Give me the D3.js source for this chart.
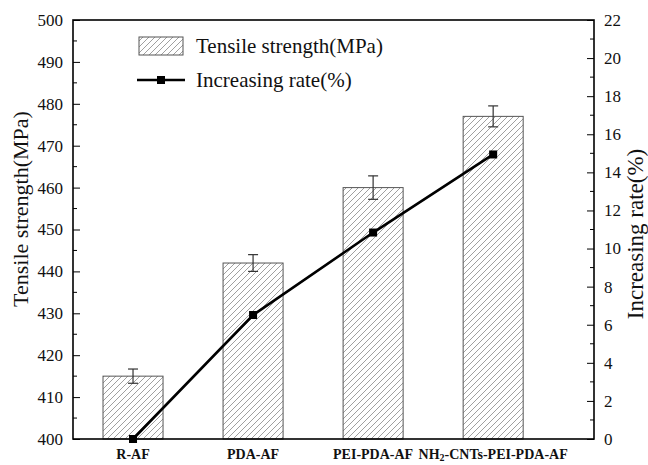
<!DOCTYPE html>
<html>
<head>
<meta charset="utf-8">
<script src="https://cdn.jsdelivr.net/npm/d3@7"></script>
<style>
  body { margin: 0; background: #fff; }
  svg text { font-family: "Liberation Serif", Tinos, "Times New Roman", "DejaVu Serif", serif; }
</style>
</head>
<body>
<svg id="chart" width="648" height="465"></svg>
<script>
// Samples and measurements
const categories = ["R-AF", "PDA-AF", "PEI-PDA-AF", "NH2-CNTs-PEI-PDA-AF"];
const strength = [415, 442, 460, 477];          // tensile strength, MPa
const strengthErr = [1.7, 2.0, 2.8, 2.5];       // error bar half-height, MPa
const rate = [0, 6.51, 10.84, 14.94];            // increasing rate, %
const leftTicks = [400, 410, 420, 430, 440, 450, 460, 470, 480, 490, 500];
const rightTicks = [0, 2, 4, 6, 8, 10, 12, 14, 16, 18, 20, 22];

const svg = d3.select("#chart");
const L = 73, R = 594, T = 20, B = 439;

const x = d3.scaleLinear().domain([0.5, 4.84]).range([L, R]);
const yL = d3.scaleLinear().domain([400, 500]).range([B, T]);
const yR = d3.scaleLinear().domain([0, 22]).range([B, T]);
const barW = x(1.25) - x(0.75);

// diagonal hatch fill
const defs = svg.append("defs");
const pat = defs.append("pattern")
  .attr("id", "hatch").attr("patternUnits", "userSpaceOnUse")
  .attr("width", 6).attr("height", 6);
pat.append("rect").attr("width", 6).attr("height", 6).attr("fill", "#fff");
pat.append("path")
  .attr("d", "M-1,1 l2,-2 M0,6 l6,-6 M5,7 l2,-2")
  .attr("stroke", "#959595").attr("stroke-width", 0.9);

// bars
svg.append("g").selectAll("rect").data(strength).join("rect")
  .attr("x", (d, i) => x(i + 1) - barW / 2)
  .attr("y", d => yL(d))
  .attr("width", barW)
  .attr("height", d => B - yL(d))
  .attr("fill", "url(#hatch)")
  .attr("stroke", "#555").attr("stroke-width", 1);

// error bars
const eb = svg.append("g").attr("stroke", "#333").attr("stroke-width", 1.2);
strength.forEach((v, i) => {
  const cx = x(i + 1), e = strengthErr[i], hw = 5;
  eb.append("line").attr("x1", cx).attr("x2", cx).attr("y1", yL(v - e)).attr("y2", yL(v + e));
  eb.append("line").attr("x1", cx - hw).attr("x2", cx + hw).attr("y1", yL(v + e)).attr("y2", yL(v + e));
  eb.append("line").attr("x1", cx - hw).attr("x2", cx + hw).attr("y1", yL(v - e)).attr("y2", yL(v - e));
});

// increasing-rate line
const line = d3.line().x((d, i) => x(i + 1)).y(d => yR(d));
svg.append("path").datum(rate).attr("d", line)
  .attr("fill", "none").attr("stroke", "#000").attr("stroke-width", 2.6);
svg.append("g").selectAll("rect").data(rate).join("rect")
  .attr("x", (d, i) => x(i + 1) - 4).attr("y", d => yR(d) - 4)
  .attr("width", 8).attr("height", 8).attr("fill", "#000");

// axes with inward ticks
const axL = d3.axisLeft(yL).tickValues(leftTicks).tickSize(-7).tickPadding(10);
const gL = svg.append("g").attr("transform", `translate(${L},0)`).call(axL);
const axR = d3.axisRight(yR).tickValues(rightTicks).tickSize(-7).tickPadding(10);
const gR = svg.append("g").attr("transform", `translate(${R},0)`).call(axR);
[gL, gR].forEach(g => {
  g.attr("font-family", null).attr("font-size", null);
  g.select(".domain").remove();
  g.selectAll("line").attr("stroke", "#000").attr("stroke-width", 1);
  g.selectAll("text").attr("font-size", 17).attr("fill", "#111");
});
// minor ticks
const minorL = d3.range(405, 500, 10);
svg.append("g").selectAll("line").data(minorL).join("line")
  .attr("x1", L).attr("x2", L + 4).attr("y1", d => yL(d)).attr("y2", d => yL(d))
  .attr("stroke", "#000");
const minorR = d3.range(1, 22, 2);
svg.append("g").selectAll("line").data(minorR).join("line")
  .attr("x1", R).attr("x2", R - 4).attr("y1", d => yR(d)).attr("y2", d => yR(d))
  .attr("stroke", "#000");

// frame
svg.append("rect").attr("x", L).attr("y", T).attr("width", R - L).attr("height", B - T)
  .attr("fill", "none").attr("stroke", "#000").attr("stroke-width", 1.6);

// category labels
const xl = svg.append("g").attr("font-weight", "bold").attr("font-size", 14)
  .attr("text-anchor", "middle").attr("fill", "#111");
categories.forEach((c, i) => {
  const t = xl.append("text").attr("x", x(i + 1)).attr("y", 459);
  if (c.startsWith("NH2")) {
    t.append("tspan").text("NH");
    t.append("tspan").attr("font-size", 10).attr("dy", 2).text("2");
    t.append("tspan").attr("dy", -2).text(c.slice(3));
  } else {
    t.text(c);
  }
});

// axis titles
svg.append("text").attr("transform", "translate(28,209) rotate(-90)")
  .attr("text-anchor", "middle").attr("font-size", 22).attr("fill", "#111")
  .text("Tensile strength(MPa)");
svg.append("text").attr("transform", "translate(643,234) rotate(-90)")
  .attr("text-anchor", "middle").attr("font-size", 23).attr("fill", "#111")
  .text("Increasing rate(%)");

// legend
const lg = svg.append("g");
lg.append("rect").attr("x", 139).attr("y", 37).attr("width", 44).attr("height", 18)
  .attr("fill", "url(#hatch)").attr("stroke", "#555");
lg.append("text").attr("x", 196).attr("y", 53).attr("font-size", 21).attr("fill", "#111")
  .text("Tensile strength(MPa)");
lg.append("line").attr("x1", 137).attr("x2", 185).attr("y1", 80).attr("y2", 80)
  .attr("stroke", "#000").attr("stroke-width", 2.6);
lg.append("rect").attr("x", 157).attr("y", 76).attr("width", 8).attr("height", 8).attr("fill", "#000");
lg.append("text").attr("x", 196).attr("y", 87).attr("font-size", 21).attr("fill", "#111")
  .text("Increasing rate(%)");
</script>
</body>
</html>
